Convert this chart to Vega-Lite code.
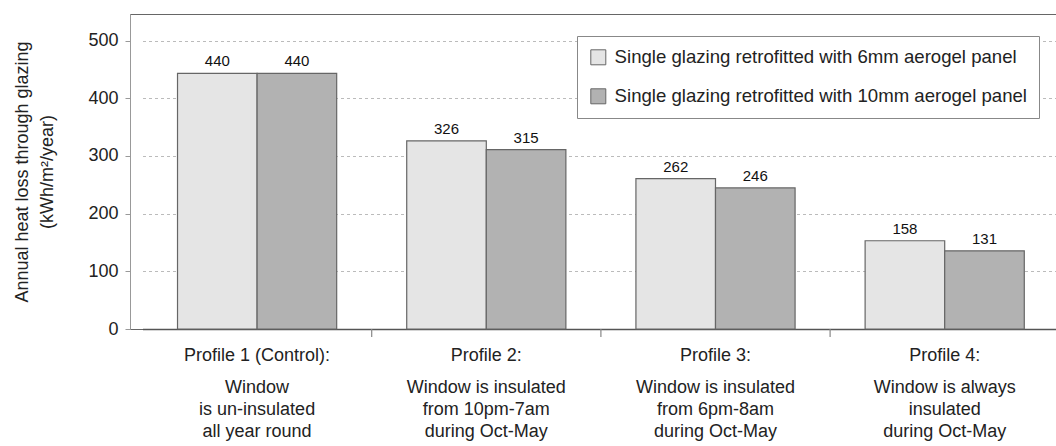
{
  "$schema": "https://vega.github.io/schema/vega-lite/v6.json",
  "width": 926,
  "height": 315,
  "autosize": "none",
  "padding": {"left": 130, "top": 14, "right": 0, "bottom": 117},
  "background": "white",
  "config": {
    "font": "Liberation Sans",
    "view": {"stroke": "#666", "strokeWidth": 1}
  },
  "datasets": {
    "bars": [
      {"profile": "Profile 1 (Control):", "series": "Single glazing retrofitted with 6mm aerogel panel", "value": 443, "label": "440"},
      {"profile": "Profile 1 (Control):", "series": "Single glazing retrofitted with 10mm aerogel panel", "value": 443, "label": "440"},
      {"profile": "Profile 2:", "series": "Single glazing retrofitted with 6mm aerogel panel", "value": 326, "label": "326"},
      {"profile": "Profile 2:", "series": "Single glazing retrofitted with 10mm aerogel panel", "value": 311, "label": "315"},
      {"profile": "Profile 3:", "series": "Single glazing retrofitted with 6mm aerogel panel", "value": 260.5, "label": "262"},
      {"profile": "Profile 3:", "series": "Single glazing retrofitted with 10mm aerogel panel", "value": 244.5, "label": "246"},
      {"profile": "Profile 4:", "series": "Single glazing retrofitted with 6mm aerogel panel", "value": 153, "label": "158"},
      {"profile": "Profile 4:", "series": "Single glazing retrofitted with 10mm aerogel panel", "value": 135.5, "label": "131"}
    ],
    "profiles": [
      {"profile": "Profile 1 (Control):", "desc": "Window\nis un-insulated\nall year round"},
      {"profile": "Profile 2:", "desc": "Window is insulated\nfrom 10pm-7am\nduring Oct-May"},
      {"profile": "Profile 3:", "desc": "Window is insulated\nfrom 6pm-8am\nduring Oct-May"},
      {"profile": "Profile 4:", "desc": "Window is always\ninsulated\nduring Oct-May"}
    ]
  },
  "layer": [
    {
      "data": {"name": "bars"},
      "mark": {"type": "bar", "stroke": "#666", "strokeWidth": 1.2},
      "encoding": {
        "x": {
          "field": "profile", "type": "nominal", "sort": null,
          "scale": {"range": [12.5, 929.3], "paddingInner": 0, "paddingOuter": 0},
          "axis": {
            "title": null, "labelAngle": 0, "labelFontSize": 18, "labelColor": "#222", "labelPadding": 17,
            "domainColor": "#555", "domainWidth": 1.5, "ticks": false,
            "grid": false
          }
        },
        "xOffset": {
          "field": "series", "type": "nominal",
          "sort": ["Single glazing retrofitted with 6mm aerogel panel", "Single glazing retrofitted with 10mm aerogel panel"],
          "scale": {"paddingInner": 0, "paddingOuter": 0.44}
        },
        "y": {
          "field": "value", "type": "quantitative",
          "scale": {"domain": [0, 546], "nice": false},
          "axis": {
            "title": ["Annual heat loss through glazing", "(kWh/m²/year)"],
            "titleFontSize": 18, "titleFontWeight": "normal", "titleColor": "#222", "titleLineHeight": 25, "titlePadding": 31,
            "values": [0, 100, 200, 300, 400, 500],
            "labelFontSize": 18, "labelColor": "#222", "labelPadding": 7,
            "tickSize": 5, "tickColor": "#999", "domainColor": "#999",
            "grid": true, "gridColor": "#bbb", "gridDash": [3, 3], "gridWidth": 1
          }
        },
        "fill": {
          "field": "series", "type": "nominal",
          "scale": {
            "domain": ["Single glazing retrofitted with 6mm aerogel panel", "Single glazing retrofitted with 10mm aerogel panel"],
            "range": ["#e5e5e5", "#b2b2b2"]
          },
          "legend": {
            "orient": "none", "legendX": 447, "legendY": 22, "title": null, "direction": "vertical",
            "symbolType": "square", "symbolSize": 225, "symbolStrokeColor": "#666", "symbolStrokeWidth": 1, "symbolOpacity": 1,
            "labelFontSize": 18.6, "labelColor": "#222", "labelLimit": 600, "labelOffset": 7,
            "rowPadding": 19, "padding": 12, "strokeColor": "#888", "fillColor": "white"
          }
        }
      }
    },
    {
      "data": {"name": "bars"},
      "mark": {"type": "text", "dy": -7, "fontSize": 15, "color": "#111", "baseline": "alphabetic"},
      "encoding": {
        "x": {"field": "profile", "type": "nominal", "sort": null},
        "xOffset": {
          "field": "series", "type": "nominal",
          "sort": ["Single glazing retrofitted with 6mm aerogel panel", "Single glazing retrofitted with 10mm aerogel panel"]
        },
        "y": {"field": "value", "type": "quantitative"},
        "text": {"field": "label"}
      }
    },
    {
      "data": {"name": "profiles"},
      "transform": [{"filter": "datum.profile !== 'Profile 1 (Control):'"}],
      "mark": {"type": "tick", "orient": "vertical", "size": 8, "yOffset": 4, "color": "#888", "thickness": 1.2, "opacity": 1},
      "encoding": {
        "x": {"field": "profile", "type": "nominal", "sort": null, "bandPosition": 0},
        "y": {"datum": 0}
      }
    },
    {
      "data": {"name": "profiles"},
      "mark": {"type": "text", "lineBreak": "\n", "fontSize": 18, "lineHeight": 22, "dy": 64, "baseline": "alphabetic", "align": "center", "color": "#222"},
      "encoding": {
        "x": {"field": "profile", "type": "nominal", "sort": null},
        "y": {"datum": 0},
        "text": {"field": "desc"}
      }
    }
  ]
}
